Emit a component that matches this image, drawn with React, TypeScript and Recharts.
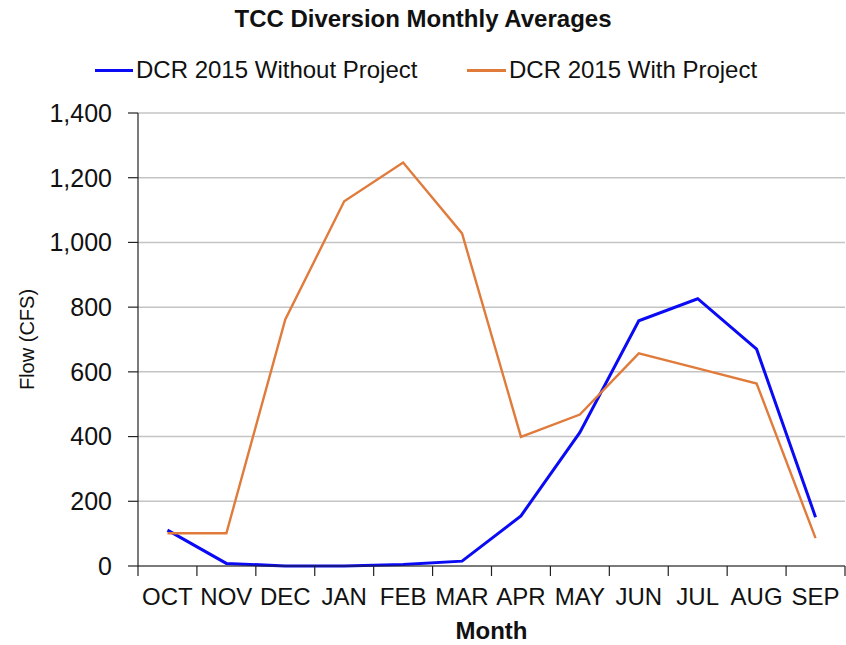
import { CartesianGrid, Line, LineChart, XAxis, YAxis } from 'recharts'

// Chart values
const months = ['OCT', 'NOV', 'DEC', 'JAN', 'FEB', 'MAR', 'APR', 'MAY', 'JUN', 'JUL', 'AUG', 'SEP']
const withoutProject = [111, 8, 0, 0, 5, 15, 155, 413, 758, 826, 670, 151]
const withProject = [101, 101, 762, 1127, 1247, 1028, 399, 468, 657, 611, 564, 86]
const yTicks = [0, 200, 400, 600, 800, 1000, 1200, 1400]

const data = months.map((m, i) => ({
  month: m,
  without: withoutProject[i],
  with: withProject[i],
}))

const BLUE = '#0a0af5'
const ORANGE = '#e07b3c'
const FONT = '"Liberation Sans", Arial, sans-serif'

const PLOT_LEFT = 138
const PLOT_RIGHT = 845
const BAND = (PLOT_RIGHT - PLOT_LEFT) / months.length

// Excel style x tick: label at the centre, tick mark on the category boundary
const MonthTick = ({ x, y, payload, index }: any) => {
  const isLast = index === months.length - 1
  return (
    <g>
      <line x1={x - BAND / 2} x2={x - BAND / 2} y1={y - 8} y2={y + 2} stroke="#222" strokeWidth={1.2} />
      {isLast && <line x1={x + BAND / 2} x2={x + BAND / 2} y1={y - 8} y2={y + 2} stroke="#222" strokeWidth={1.2} />}
      <text x={x} y={y + 31} textAnchor="middle" fill="#111" fontSize={24} fontFamily={FONT}>
        {payload.value}
      </text>
    </g>
  )
}

// legend drawn as plain html so it does not push the plot down
const ChartLegend = () => (
  <div style={{ position: 'absolute', top: 56, left: 0, width: 846, height: 28, fontFamily: FONT, fontSize: 24, color: '#111', whiteSpace: 'nowrap' }}>
    <div style={{ position: 'absolute', left: 95, top: 0, display: 'flex', alignItems: 'center' }}>
      <span style={{ display: 'inline-block', width: 38, height: 3, background: BLUE, marginRight: 3 }} />
      DCR 2015 Without Project
    </div>
    <div style={{ position: 'absolute', left: 467, top: 0, display: 'flex', alignItems: 'center' }}>
      <span style={{ display: 'inline-block', width: 39, height: 3, background: ORANGE, marginRight: 3 }} />
      DCR 2015 With Project
    </div>
  </div>
)

export default function App() {
  return (
    <div style={{ position: 'absolute', left: 0, top: 0, width: 846, height: 645, background: '#fff' }}>
      <div
        style={{
          position: 'absolute',
          top: 5,
          width: 846,
          textAlign: 'center',
          fontFamily: FONT,
          fontWeight: 'bold',
          fontSize: 24,
          lineHeight: '28px',
          color: '#111',
        }}
      >
        TCC Diversion Monthly Averages
      </div>
      <ChartLegend />
      <LineChart
        width={846}
        height={645}
        data={data}
        margin={{ top: 113, right: 846 - PLOT_RIGHT, bottom: 0, left: 0 }}
      >
        <CartesianGrid vertical={false} stroke="#c4c4c4" strokeWidth={1.5} />
        <XAxis
          dataKey="month"
          axisLine={{ stroke: '#222', strokeWidth: 1.2 }}
          tickLine={false}
          tick={<MonthTick />}
          interval={0}
          height={79}
          padding={{ left: BAND / 2, right: BAND / 2 }}
          label={{
            value: 'Month',
            position: 'insideBottom',
            offset: 6,
            fill: '#111',
            fontSize: 24,
            fontWeight: 'bold',
            fontFamily: FONT,
          }}
        />
        <YAxis
          width={PLOT_LEFT}
          domain={[0, 1400]}
          ticks={yTicks}
          interval={0}
          axisLine={{ stroke: '#222', strokeWidth: 1.2 }}
          tickLine={{ stroke: '#222', strokeWidth: 1.2 }}
          tickSize={10}
          tickMargin={16}
          tick={{ fill: '#111', fontSize: 25, fontFamily: FONT }}
          tickFormatter={(v: number) => v.toLocaleString('en-US')}
          label={{
            value: 'Flow (CFS)',
            angle: -90,
            position: 'insideLeft',
            offset: 27,
            style: { textAnchor: 'middle' },
            fill: '#111',
            fontSize: 20,
            fontFamily: FONT,
          }}
        />
        <Line
          type="linear"
          dataKey="without"
          name="DCR 2015 Without Project"
          stroke={BLUE}
          strokeWidth={3}
          dot={false}
          isAnimationActive={false}
        />
        <Line
          type="linear"
          dataKey="with"
          name="DCR 2015 With Project"
          stroke={ORANGE}
          strokeWidth={2.4}
          dot={false}
          isAnimationActive={false}
        />
      </LineChart>
    </div>
  )
}
